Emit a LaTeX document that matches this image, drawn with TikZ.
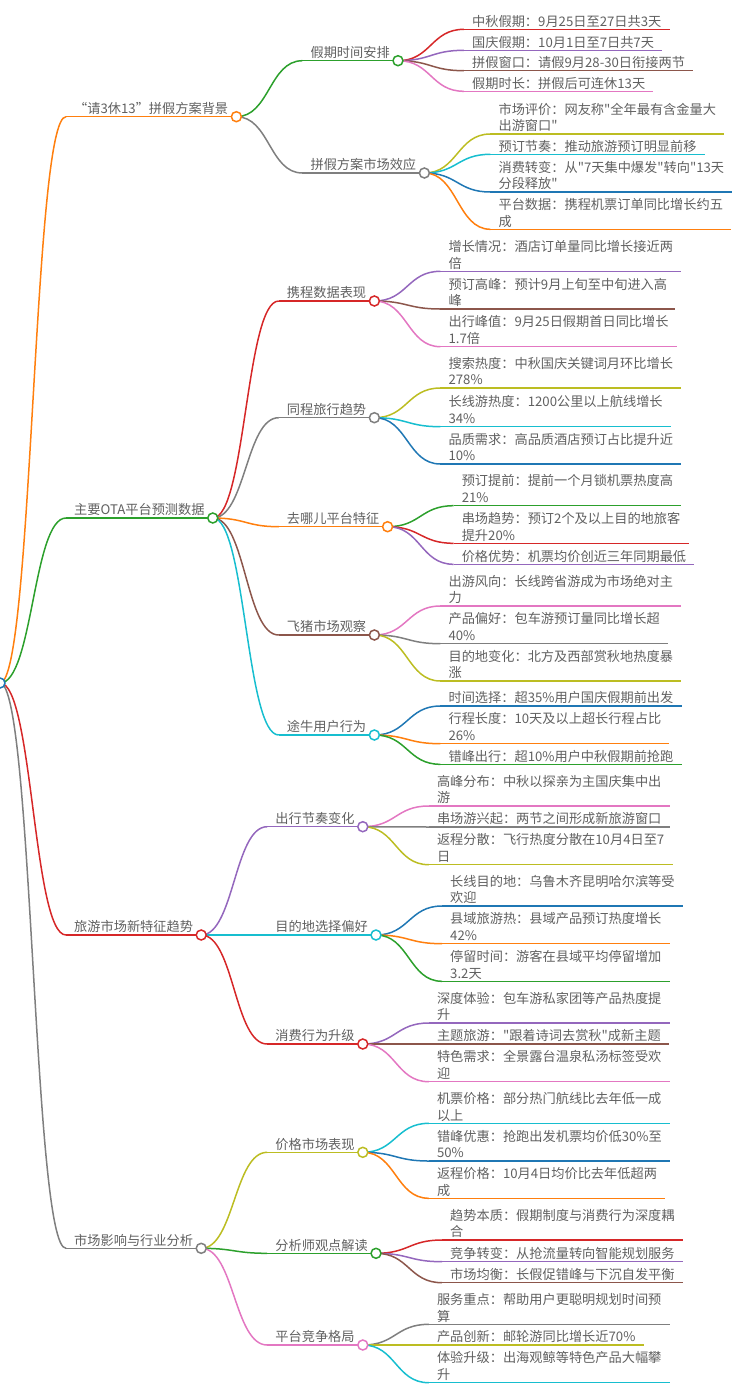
\documentclass[tikz,border=0pt]{standalone}
\usepackage{fontspec}
\setmainfont{Noto Sans CJK SC}[Ligatures=TeXOff]
\usetikzlibrary{calc,backgrounds}
\definecolor{c0}{HTML}{1F77B4}
\definecolor{c1}{HTML}{FF7F0E}
\definecolor{c2}{HTML}{2CA02C}
\definecolor{c3}{HTML}{D62728}
\definecolor{c4}{HTML}{9467BD}
\definecolor{c5}{HTML}{8C564B}
\definecolor{c6}{HTML}{E377C2}
\definecolor{c7}{HTML}{7F7F7F}
\definecolor{c8}{HTML}{BCBD22}
\definecolor{c9}{HTML}{17BECF}
\definecolor{textgray}{HTML}{606060}
\tikzstyle{topictext}=[inner xsep=8pt, inner ysep=1pt, text depth=2pt, align=left, text=textgray, font=\fontsize{13.2}{16.7}\selectfont]
\tikzstyle{conn}=[line width=1.5pt]
\tikzstyle{knob}=[circle, minimum size=10pt, inner sep=0pt, fill=white, line width=1.5pt]
% name, parent knob, line y, colour, text
\newcommand{\topic}[5]
{
  \path let \p1 = (#2) in coordinate (#1-s) at (\x1+66pt,-#3pt);
  \node[topictext, anchor=south west] (#1) at (#1-s) {#5};
  \begin{scope}[on background layer]
    \draw[conn, draw=#4] let \p1 = (#2), \p2 = (#1-s) in (\p1) .. controls ({(\x1+\x2)/2},\y1) and ({(\x1+\x2)/2},\y2) .. (\p2);
  \end{scope}
  \draw[conn, draw=#4] (#1.south west) -- (#1.south east);
}
\newcommand{\branch}[5]
{
  \topic{#1}{#2}{#3}{#4}{#5}
  \node[knob, draw=#4] (#1-c) at (#1.south east) {};
}

\begin{document}
\begin{tikzpicture}[x=1pt, y=-1pt]
	\useasboundingbox (0,0) rectangle (744,1390);

	\node[knob, draw=c0] (root) at (0,683) {};

	\branch{bg}{root}{116.7}{c1}{“请3休13”拼假方案背景}
	\branch{ota}{root}{518}{c2}{主要OTA平台预测数据}
	\branch{trend}{root}{935}{c3}{旅游市场新特征趋势}
	\branch{impact}{root}{1248.3}{c7}{市场影响与行业分析}

	% holiday background
	\branch{hol}{bg-c}{60.7}{c2}{假期时间安排}
	\topic{hol1}{hol-c}{29.3}{c3}{中秋假期：9月25日至27日共3天}
	\topic{hol2}{hol-c}{50.3}{c4}{国庆假期：10月1日至7日共7天}
	\topic{hol3}{hol-c}{70.7}{c5}{拼假窗口：请假9月28-30日衔接两节}
	\topic{hol4}{hol-c}{91.3}{c6}{假期时长：拼假后可连休13天}
	\branch{eff}{bg-c}{173}{c7}{拼假方案市场效应}
	\topic{eff1}{eff-c}{134}{c8}{市场评价：网友称"全年最有含金量大\\出游窗口"}
	\topic{eff2}{eff-c}{154.3}{c9}{预订节奏：推动旅游预订明显前移}
	\topic{eff3}{eff-c}{192}{c0}{消费转变：从"7天集中爆发"转向"13天\\分段释放"}
	\topic{eff4}{eff-c}{229.3}{c1}{平台数据：携程机票订单同比增长约五\\成}

	% OTA platforms
	\branch{ctrip}{ota-c}{301}{c3}{携程数据表现}
	\topic{ctrip1}{ctrip-c}{271.3}{c4}{增长情况：酒店订单量同比增长接近两\\倍}
	\topic{ctrip2}{ctrip-c}{309}{c5}{预订高峰：预计9月上旬至中旬进入高\\峰}
	\topic{ctrip3}{ctrip-c}{346.7}{c6}{出行峰值：9月25日假期首日同比增长\\1.7倍}
	\branch{ly}{ota-c}{417.7}{c7}{同程旅行趋势}
	\topic{ly1}{ly-c}{388}{c8}{搜索热度：中秋国庆关键词月环比增长\\278\%}
	\topic{ly2}{ly-c}{426.7}{c9}{长线游热度：1200公里以上航线增长\\34\%}
	\topic{ly3}{ly-c}{464}{c0}{品质需求：高品质酒店预订占比提升近\\10\%}
	\branch{qunar}{ota-c}{526.7}{c1}{去哪儿平台特征}
	\topic{qunar1}{qunar-c}{505.7}{c2}{预订提前：提前一个月锁机票热度高\\21\%}
	\topic{qunar2}{qunar-c}{543.3}{c3}{串场趋势：预订2个及以上目的地旅客\\提升20\%}
	\topic{qunar3}{qunar-c}{564.3}{c4}{价格优势：机票均价创近三年同期最低}
	\branch{fliggy}{ota-c}{635}{c5}{飞猪市场观察}
	\topic{fliggy1}{fliggy-c}{606}{c6}{出游风向：长线跨省游成为市场绝对主\\力}
	\topic{fliggy2}{fliggy-c}{643.7}{c7}{产品偏好：包车游预订量同比增长超\\40\%}
	\topic{fliggy3}{fliggy-c}{681}{c8}{目的地变化：北方及西部赏秋地热度暴\\涨}
	\branch{tuniu}{ota-c}{735}{c9}{途牛用户行为}
	\topic{tuniu1}{tuniu-c}{706}{c0}{时间选择：超35\%用户国庆假期前出发}
	\topic{tuniu2}{tuniu-c}{743.7}{c1}{行程长度：10天及以上超长行程占比\\26\%}
	\topic{tuniu3}{tuniu-c}{764.3}{c2}{错峰出行：超10\%用户中秋假期前抢跑}

	% new trends
	\branch{pace}{trend-c}{826.7}{c4}{出行节奏变化}
	\topic{pace1}{pace-c}{806}{c6}{高峰分布：中秋以探亲为主国庆集中出\\游}
	\topic{pace2}{pace-c}{827}{c7}{串场游兴起：两节之间形成新旅游窗口}
	\topic{pace3}{pace-c}{864.7}{c8}{返程分散：飞行热度分散在10月4日至7\\日}
	\branch{dest}{trend-c}{935}{c9}{目的地选择偏好}
	\topic{dest1}{dest-c}{906}{c0}{长线目的地：乌鲁木齐昆明哈尔滨等受\\欢迎}
	\topic{dest2}{dest-c}{943.7}{c1}{县域旅游热：县域产品预订热度增长\\42\%}
	\topic{dest3}{dest-c}{981.3}{c2}{停留时间：游客在县域平均停留增加\\3.2天}
	\branch{spend}{trend-c}{1044}{c3}{消费行为升级}
	\topic{spend1}{spend-c}{1023}{c4}{深度体验：包车游私家团等产品热度提\\升}
	\topic{spend2}{spend-c}{1044}{c5}{主题旅游："跟着诗词去赏秋"成新主题}
	\topic{spend3}{spend-c}{1081.7}{c6}{特色需求：全景露台温泉私汤标签受欢\\迎}

	% market impact
	\branch{price}{impact-c}{1152.3}{c8}{价格市场表现}
	\topic{price1}{price-c}{1123.3}{c9}{机票价格：部分热门航线比去年低一成\\以上}
	\topic{price2}{price-c}{1161}{c0}{错峰优惠：抢跑出发机票均价低30\%至\\50\%}
	\topic{price3}{price-c}{1198.3}{c1}{返程价格：10月4日均价比去年低超两\\成}
	\branch{view}{impact-c}{1253.3}{c2}{分析师观点解读}
	\topic{view1}{view-c}{1240}{c3}{趋势本质：假期制度与消费行为深度耦\\合}
	\topic{view2}{view-c}{1261.7}{c4}{竞争转变：从抢流量转向智能规划服务}
	\topic{view3}{view-c}{1282.7}{c5}{市场均衡：长假促错峰与下沉自发平衡}
	\branch{comp}{impact-c}{1345}{c6}{平台竞争格局}
	\topic{comp1}{comp-c}{1324.3}{c7}{服务重点：帮助用户更聪明规划时间预\\算}
	\topic{comp2}{comp-c}{1345}{c8}{产品创新：邮轮游同比增长近70\%}
	\topic{comp3}{comp-c}{1382.7}{c9}{体验升级：出海观鲸等特色产品大幅攀\\升}

\end{tikzpicture}
\end{document}
